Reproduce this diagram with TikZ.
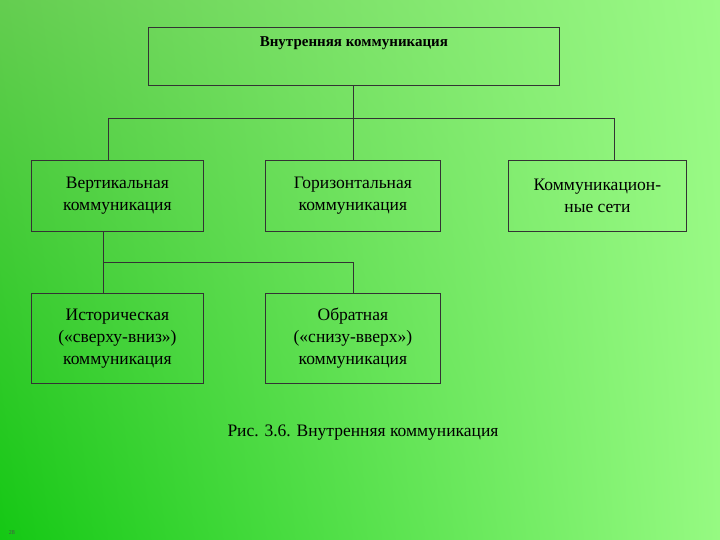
\documentclass[tikz,border=0pt]{standalone}
\usepackage{fontspec}
\usetikzlibrary{shadings}
\setmainfont{Liberation Serif}
\definecolor{cUL}{RGB}{100,205,80}
\definecolor{cUR}{RGB}{155,250,135}
\definecolor{cLL}{RGB}{20,200,20}
\definecolor{cLR}{RGB}{150,250,130}
\begin{document}
\begin{tikzpicture}[x=1pt,y=-1pt,
  box/.style={draw=black!80,line width=0.8pt,align=center,font=\fontsize{17.5}{22}\selectfont,inner sep=0pt},
  conn/.style={draw=black!80,line width=0.8pt}]
\shade[upper left=cUL,upper right=cUR,lower left=cLL,lower right=cLR] (0,0) rectangle (720,540);
\useasboundingbox (0,0) rectangle (720,540);
\node[box,minimum width=411pt,minimum height=58pt,anchor=north west,font=\bfseries\fontsize{15}{18}\selectfont,text depth=30pt] (top) at (148,27) {Внутренняя коммуникация};
\node[box,minimum width=172pt,minimum height=71pt,anchor=north west] (v) at (31,160) {Вертикальная\\коммуникация};
\node[box,minimum width=175pt,minimum height=71pt,anchor=north west] (g) at (265,160) {Горизонтальная\\коммуникация};
\node[box,minimum width=178pt,minimum height=71pt,anchor=north west] (k) at (508,160) {Коммуникацион-\\ные сети};
\node[box,minimum width=172pt,minimum height=90pt,anchor=north west] (h) at (31,293) {Историческая\\(«сверху-вниз»)\\коммуникация};
\node[box,minimum width=175pt,minimum height=90pt,anchor=north west] (o) at (265,293) {Обратная\\(«снизу-вверх»)\\коммуникация};
\node[font=\fontsize{17.5}{21}\selectfont] (cap) at (363,433) {Рис. 3.6. Внутренняя коммуникация};
\node[font=\fontsize{6}{7}\selectfont,text=black!70] (pg) at (12,533) {28};
\coordinate (j1) at (353,118);
\draw[conn] (top.south -| j1) -- (j1);
\draw[conn] (108,118) -- (614,118);
\draw[conn] (108,118) -- (108,160);
\draw[conn] (j1) -- (g.north -| j1);
\draw[conn] (614,118) -- (614,160);
\coordinate (j2) at (103,262);
\draw[conn] (v.south -| j2) -- (h.north -| j2);
\draw[conn] (j2) -- (353,262) -- (353,293);
\end{tikzpicture}
\end{document}
